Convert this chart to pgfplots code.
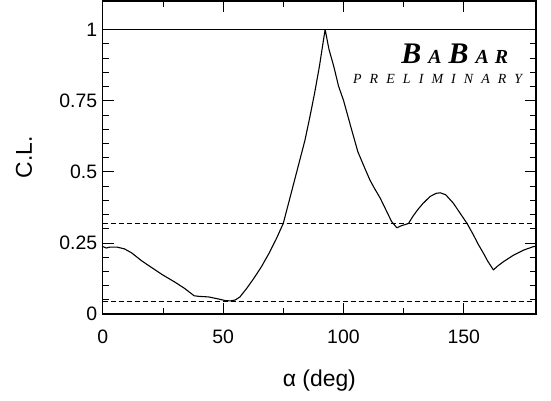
\documentclass[border=0pt]{standalone}
\usepackage{fontspec}
\setmainfont{Liberation Sans}
\newfontfamily\tms{Liberation Serif}
\usepackage{pgfplots}
\pgfplotsset{compat=1.18}

\begin{document}
\begin{tikzpicture}
\begin{axis}[
    scale only axis,
    width=433.3bp, height=313bp,
    xmin=0, xmax=180, ymin=0, ymax=1.1,
    xtick={0,50,100,150}, minor x tick num=1,
    ytick={0,0.25,0.5,0.75,1}, minor y tick num=4,
    tick align=inside,
    major tick length=11bp, minor tick length=6bp,
    axis line style={line width=1.2pt},
    every tick/.style={black, line width=0.6pt},
    tick label style={font=\fontsize{19.5}{22}\selectfont},
    /pgf/number format/assume math mode=true,
    yticklabel style={/pgf/number format/fixed, anchor=east, xshift=-2bp},
    xticklabel style={anchor=north, yshift=-12bp},
    xlabel={α (deg)}, ylabel={C.L.},
    label style={font=\fontsize{23}{26}\selectfont},
    xlabel style={at={(rel axis cs:0.5,-0.2332)}, anchor=base},
    ylabel style={at={(rel axis cs:-0.1816,0.5)}, anchor=center},
]
\addplot[black, line width=0.5pt] coordinates {(0,1) (180,1)};
\addplot[black, line width=0.8pt, dash pattern=on 5bp off 3bp] coordinates {(0,0.317) (180,0.317)};
\addplot[black, line width=0.8pt, dash pattern=on 5bp off 3bp] coordinates {(0,0.046) (180,0.046)};
\addplot[black, line width=1.1pt, line join=round] coordinates {
    (0,0.237) (1.5,0.232) (3,0.235) (6,0.235) (9,0.229) (12,0.215)
    (16,0.188) (20,0.165) (25,0.137) (30,0.112) (34,0.090) (38,0.064)
    (40,0.062) (44,0.060) (48,0.053) (51,0.047) (53,0.046) (55,0.049)
    (57,0.060) (60,0.092) (63,0.128) (66,0.167) (69,0.212) (72,0.262)
    (75,0.318) (78,0.415) (80,0.480) (82,0.545) (84,0.610) (86,0.690)
    (88,0.775) (90,0.869) (92.4,1.0) (94,0.93) (96,0.87) (98,0.80)
    (100,0.752) (103,0.66) (106,0.57) (109,0.51) (111,0.471) (113,0.44)
    (115.3,0.407) (118,0.36) (120,0.325) (122.2,0.303) (124,0.310)
    (127,0.318) (129,0.345) (131,0.368) (133,0.388) (136,0.413)
    (138.5,0.424) (140.2,0.426) (142.5,0.419) (145.7,0.389) (148,0.36)
    (151.3,0.319) (154,0.278) (156,0.245) (158.2,0.213) (160,0.185)
    (162.3,0.155) (164,0.168) (166.5,0.184) (170.7,0.207) (175,0.225)
    (179,0.237) (180,0.238)
};
\node[anchor=base east, inner sep=0pt] at (axis cs:168.5,0.881)
    {\tms\bfseries\itshape\fontsize{30}{30}\selectfont B\kern7bp{\fontsize{20}{20}\selectfont A}\kern7bp B\kern7bp{\fontsize{20}{20}\selectfont A\kern6bp R}};
\node[anchor=base east, inner sep=0pt] at (axis cs:174.3,0.811)
    {\tms\itshape\fontsize{14}{14}\selectfont\addfontfeature{LetterSpace=58}PRELIMINARY};
\coordinate (bl) at (rel axis cs:0,0);
\end{axis}
\pgfresetboundingbox
\path (bl) ++(-102.7bp,-87bp) rectangle ++(551bp,401bp);
\end{tikzpicture}
\end{document}
